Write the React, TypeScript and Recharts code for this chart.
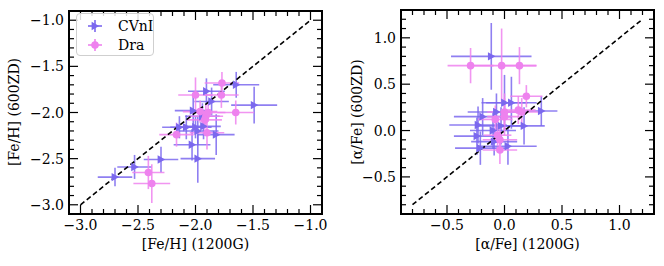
import React from 'react';
import { ScatterChart, Scatter, XAxis, YAxis, ErrorBar, ReferenceLine, ReferenceArea, Label } from 'recharts';

const FONT = '"DejaVu Serif", serif';
const BLUE = '#7B68EE';
const PINK = '#EE82EE';

// ---------- Left panel: [Fe/H] ----------
const feCvnX = [-2.70, -2.53, -2.30, -1.98, -2.03, -2.14, -2.08, -2.00, -1.98, -1.93, -1.82, -2.02, -1.94, -1.905, -1.86, -1.646, -1.49];
const feCvnY = [-2.70, -2.59, -2.51, -2.50, -2.35, -2.16, -2.16, -2.16, -2.20, -2.15, -2.24, -1.98, -2.04, -1.77, -1.88, -1.70, -1.92];
const feCvnXErr = [0.15, 0.15, 0.15, 0.15, 0.16, 0.15, 0.14, 0.14, 0.18, 0.15, 0.16, 0.16, 0.15, 0.16, 0.15, 0.20, 0.20];
const feCvnYErr = [0.10, 0.13, 0.14, 0.26, 0.17, 0.12, 0.13, 0.12, 0.15, 0.14, 0.22, 0.15, 0.14, 0.14, 0.15, 0.14, 0.20];

const feDraX = [-2.41, -2.38, -2.165, -2.00, -1.90, -1.96, -1.91, -1.89, -1.775, -1.77, -1.65, -1.92];
const feDraY = [-2.65, -2.77, -2.24, -1.81, -2.22, -1.99, -2.04, -2.00, -1.81, -1.68, -2.00, -2.08];
const feDraXErr = [0.14, 0.16, 0.15, 0.15, 0.15, 0.15, 0.15, 0.15, 0.15, 0.15, 0.16, 0.15];
const feDraYErr = [0.18, 0.21, 0.13, 0.19, 0.18, 0.12, 0.12, 0.10, 0.14, 0.12, 0.13, 0.10];

// ---------- Right panel: [alpha/Fe] ----------
const alCvnX = [-0.115, 0.32, 0.17, 0.06, 0.00, -0.07, -0.19, -0.23, -0.24, -0.03, -0.10, 0.03, -0.21, -0.09];
const alCvnY = [0.80, 0.21, 0.05, 0.30, 0.30, 0.20, 0.15, 0.06, -0.06, 0.05, 0.00, -0.17, -0.19, -0.12];
const alCvnXErr = [0.35, 0.14, 0.18, 0.22, 0.20, 0.25, 0.25, 0.25, 0.20, 0.20, 0.20, 0.25, 0.22, 0.20];
const alCvnYErr = [0.36, 0.16, 0.20, 0.28, 0.30, 0.20, 0.20, 0.20, 0.20, 0.20, 0.20, 0.20, 0.18, 0.15];

const alDraX = [-0.295, -0.025, 0.13, 0.19, 0.12, 0.15, 0.00, 0.00, -0.08, -0.06, -0.04, -0.04];
const alDraY = [0.70, 0.70, 0.70, 0.37, 0.22, 0.20, 0.20, 0.15, 0.12, -0.05, -0.10, -0.21];
const alDraXErr = [0.20, 0.30, 0.15, 0.14, 0.15, 0.15, 0.15, 0.15, 0.15, 0.12, 0.15, 0.15];
const alDraYErr = [0.19, 0.40, 0.20, 0.12, 0.15, 0.15, 0.20, 0.20, 0.15, 0.12, 0.12, 0.15];

// ---------- Axes ----------
const feDomain = [-3.1, -0.9];
const alDomain = [-0.9, 1.3];
const feLine = [-3.0, -1.0];
const alLine = [-0.8, 1.2];
const feMajor = [-3.0, -2.5, -2.0, -1.5, -1.0];
const alMajor = [-0.5, 0.0, 0.5, 1.0];
const feMinorRange = [-30, -10];
const alMinorRange = [-8, 12];

const seriesNames = ['CVnI', 'Dra'];

function build(xs: number[], ys: number[], xe: number[], ye: number[]) {
  return xs.map((x, i) => ({ x, y: ys[i], xe: xe[i], ye: ye[i] }));
}

function tickList(r: number[]) {
  const out: number[] = [];
  for (let i = r[0]; i <= r[1]; i++) out.push(i / 10);
  return out;
}

const isMajor = (v: number, majors: number[]) => majors.some((m) => Math.abs(m - v) < 1e-6);
const fmt = (v: number) => {
  let r = Math.round(v * 10) / 10;
  if (Math.abs(r) < 1e-9) r = 0;
  return r.toFixed(1).replace('-', '\u2212');
};

const W = 332;
const H = 266;
const PLOT_L = 69;
const PLOT_R = 322;
const MAJ = 9;
const MIN = 5;
const FS = 14;

const Triangle = (props: any) => {
  const { cx, cy } = props;
  const s = 4.2;
  return <polygon points={`${cx - s * 0.8},${cy - s} ${cx + s},${cy} ${cx - s * 0.8},${cy + s}`} fill={BLUE} />;
};
const Dot = (props: any) => {
  const { cx, cy } = props;
  return <circle cx={cx} cy={cy} r={3.8} fill={PINK} />;
};

function Panel(p: {
  cvn: any[]; dra: any[]; domain: number[]; line: number[]; majors: number[]; minor: number[];
  xLabel: string; yLabel: string; yLabelX: number; top: number;
}) {
  const plotTop = p.top;
  const plotBottom = 214;
  const plotH = plotBottom - plotTop;
  const plotW = PLOT_R - PLOT_L;
  const ticks = tickList(p.minor);

  const XTick = (props: any) => {
    const { x, y, payload } = props;
    const v = payload.value;
    const major = isMajor(v, p.majors);
    const len = major ? MAJ : MIN;
    return (
      <g>
        <line x1={x} x2={x} y1={y} y2={y - len} stroke="#000" strokeWidth={1.2} />
        <line x1={x} x2={x} y1={y - plotH} y2={y - plotH + len} stroke="#000" strokeWidth={1.2} />
        {major && (
          <text x={x} y={y + 16} textAnchor="middle" fontSize={FS} fontFamily={FONT} fill="#000">{fmt(v)}</text>
        )}
      </g>
    );
  };
  const YTick = (props: any) => {
    const { x, y, payload } = props;
    const v = payload.value;
    const major = isMajor(v, p.majors);
    const len = major ? MAJ : MIN;
    return (
      <g>
        <line x1={x} x2={x + len} y1={y} y2={y} stroke="#000" strokeWidth={1.2} />
        <line x1={x + plotW} x2={x + plotW - len} y1={y} y2={y} stroke="#000" strokeWidth={1.2} />
        {major && (
          <text x={x - 5} y={y + 5} textAnchor="end" fontSize={FS} fontFamily={FONT} fill="#000">{fmt(v)}</text>
        )}
      </g>
    );
  };

  return (
    <ScatterChart width={W} height={H} margin={{ top: plotTop, right: W - PLOT_R, bottom: 12, left: 9 }}>
      <XAxis
        type="number" dataKey="x" domain={p.domain} ticks={ticks} interval={0} allowDataOverflow
        height={40} tickSize={0} tickMargin={0} tickLine={false} axisLine={false} tick={<XTick />}
      >
        <Label content={() => (
          <text x={(PLOT_L + PLOT_R) / 2} y={249} textAnchor="middle" fontSize={FS} fontFamily={FONT} fill="#000">{p.xLabel}</text>
        )} />
      </XAxis>
      <YAxis
        type="number" dataKey="y" domain={p.domain} ticks={ticks} interval={0} allowDataOverflow
        width={60} tickSize={0} tickMargin={0} tickLine={false} axisLine={false} tick={<YTick />}
      >
        <Label content={() => (
          <text x={p.yLabelX} y={112} transform={`rotate(-90 ${p.yLabelX} 112)`} textAnchor="middle" fontSize={FS} fontFamily={FONT} fill="#000">{p.yLabel}</text>
        )} />
      </YAxis>
      <Scatter name={seriesNames[0]} data={p.cvn} shape={Triangle} isAnimationActive={false}>
        <ErrorBar dataKey="xe" direction="x" width={0} stroke={BLUE} strokeWidth={1.6} strokeOpacity={0.85} isAnimationActive={false} />
        <ErrorBar dataKey="ye" direction="y" width={0} stroke={BLUE} strokeWidth={1.6} strokeOpacity={0.85} isAnimationActive={false} />
      </Scatter>
      <Scatter name={seriesNames[1]} data={p.dra} shape={Dot} isAnimationActive={false}>
        <ErrorBar dataKey="xe" direction="x" width={0} stroke={PINK} strokeWidth={1.6} strokeOpacity={0.85} isAnimationActive={false} />
        <ErrorBar dataKey="ye" direction="y" width={0} stroke={PINK} strokeWidth={1.6} strokeOpacity={0.85} isAnimationActive={false} />
      </Scatter>
      <ReferenceLine
        segment={[{ x: p.line[0], y: p.line[0] }, { x: p.line[1], y: p.line[1] }]}
        stroke="#000" strokeWidth={1.6} strokeDasharray="5 3" ifOverflow="visible"
      />
      <ReferenceArea x1={p.domain[0]} x2={p.domain[1]} y1={p.domain[0]} y2={p.domain[1]} fill="none" stroke="#000" strokeWidth={2} ifOverflow="visible" />
    </ScatterChart>
  );
}

const LegendBox = () => (
  <div style={{
    position: 'absolute', left: 76, top: 13, width: 78, height: 43, boxSizing: 'border-box',
    border: '1px solid #cfcfcf', borderRadius: 4, background: 'rgba(255,255,255,0.85)', fontFamily: FONT, fontSize: FS,
  }}>
    {seriesNames.map((n, i) => (
      <div key={n} style={{ position: 'absolute', left: 6, top: 3 + i * 19, height: 18, display: 'flex', alignItems: 'center' }}>
        <svg width={24} height={18}>
          <line x1={5} x2={19} y1={9} y2={9} stroke={i === 0 ? BLUE : PINK} strokeWidth={1.6} />
          <line x1={12} x2={12} y1={3} y2={15} stroke={i === 0 ? BLUE : PINK} strokeWidth={1.6} />
          {i === 0
            ? <polygon points="8.6,4.8 16.2,9 8.6,13.2" fill={BLUE} />
            : <circle cx={12} cy={9} r={3.8} fill={PINK} />}
        </svg>
        <span style={{ marginLeft: 11, color: '#000' }}>{n}</span>
      </div>
    ))}
  </div>
);

export default function App() {
  const feCvn = build(feCvnX, feCvnY, feCvnXErr, feCvnYErr);
  const feDra = build(feDraX, feDraY, feDraXErr, feDraYErr);
  const alCvn = build(alCvnX, alCvnY, alCvnXErr, alCvnYErr);
  const alDra = build(alDraX, alDraY, alDraXErr, alDraYErr);
  return (
    <div style={{ position: 'absolute', left: 0, top: 0, width: 664, height: 266, background: '#fff' }}>
      <div style={{ position: 'absolute', left: 0, top: 0 }}>
        <Panel cvn={feCvn} dra={feDra} domain={feDomain} line={feLine} majors={feMajor} minor={feMinorRange}
          xLabel="[Fe/H] (1200G)" yLabel="[Fe/H] (600ZD)" yLabelX={19} top={11} />
        <LegendBox />
      </div>
      <div style={{ position: 'absolute', left: 332, top: 0 }}>
        <Panel cvn={alCvn} dra={alDra} domain={alDomain} line={alLine} majors={alMajor} minor={alMinorRange}
          xLabel="[α/Fe] (1200G)" yLabel="[α/Fe] (600ZD)" yLabelX={30} top={10} />
      </div>
    </div>
  );
}
